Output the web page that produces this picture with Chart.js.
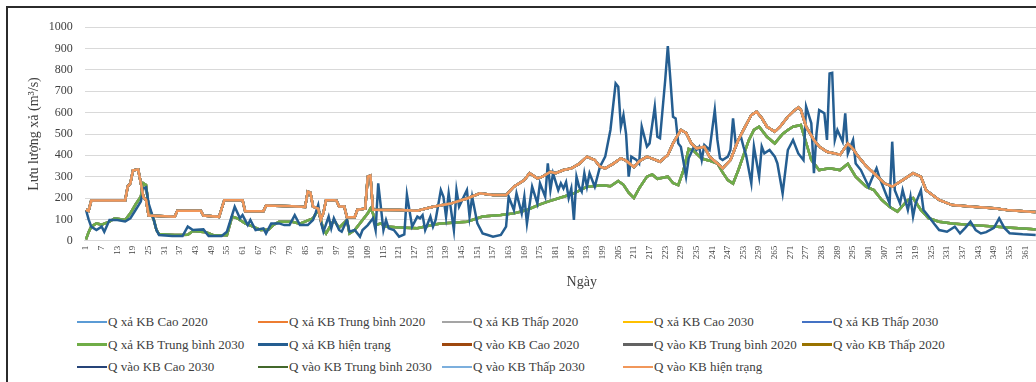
<!DOCTYPE html>
<html lang="vi">
<head>
<meta charset="utf-8">
<title>Lưu lượng xả</title>
<script src="https://cdn.jsdelivr.net/npm/chart.js@4.4.1/dist/chart.umd.min.js"></script>
<style>
  html, body { margin: 0; padding: 0; background: #fff; }
  body { width: 1036px; height: 382px; overflow: hidden; position: relative;
         font-family: "Liberation Serif", "Times New Roman", serif; color: #404040; }
  #frame { position: absolute; left: 6px; top: 6px; width: 1060px; height: 400px;
           border-left: 2px solid #2b2b2b; border-top: 2px solid #2b2b2b; }
  #plot { position: absolute; left: 0; top: 0; width: 1037px; height: 300px; }
  .lg { position: absolute; white-space: nowrap; font-size: 13px; line-height: 16px;
        display: flex; align-items: center; color: #404040; }
  .lg i { display: inline-block; width: 30px; height: 2.5px; margin-right: 1px; }
</style>
</head>
<body>
<div id="frame"></div>
<div id="plot"><canvas id="chart"></canvas></div>
<div id="legend"></div>
<script>
// Day numbers shown under the horizontal axis
const dayTicks = [1,7,13,19,25,31,37,43,49,55,61,67,73,79,85,91,97,103,109,115,121,127,133,139,
  145,151,157,163,169,175,181,187,193,199,205,211,217,223,229,235,241,247,253,259,265,271,277,
  283,289,295,301,307,313,319,325,331,337,343,349,355,361];

// Inflow to the reservoir, [day, m3/s]
const qVao = [[1,145],[2,140],[3,188],[16,188],[17,255],[18,268],[19,330],[21,334],[22,270],[23,205],
  [24,190],[25,118],[35,112],[36,140],[45,140],[46,118],[52,112],[54,190],[61,190],[62,138],[69,138],
  [70,165],[80,162],[85,158],[86,230],[87,225],[88,160],[90,150],[91,100],[92,130],[93,190],[96,190],
  [97,188],[98,160],[100,160],[101,110],[104,110],[105,145],[108,150],[109,300],[110,305],[111,145],
  [121,144],[128,140],[134,159],[141,175],[147,198],[152,222],[157,214],[162,214],[165,253],[169,284],
  [171,316],[174,292],[176,300],[179,323],[181,316],[184,331],[187,339],[190,360],[193,394],[196,378],
  [198,347],[200,339],[203,360],[206,386],[208,375],[211,345],[213,372],[216,394],[218,385],[221,370],
  [224,402],[226,456],[229,519],[231,505],[233,456],[235,433],[238,440],[240,394],[243,362],[245,339],
  [248,378],[251,472],[253,519],[256,589],[258,605],[260,575],[262,534],[265,511],[267,534],[270,581],
  [272,605],[274,625],[275,613],[277,534],[280,472],[282,441],[285,417],[288,409],[290,402],[293,456],
  [295,430],[297,394],[300,350],[303,316],[307,269],[310,253],[314,284],[318,316],[321,300],[323,237],
  [328,191],[333,167],[341,159],[349,152],[354,144],[363,136],[365,135]];

// Planned release (all scenarios), [day, m3/s]
const qXaKB = [[1,6],[2,40],[3,66],[5,81],[7,75],[10,89],[12,105],[16,97],[18,128],[20,170],[22,206],
  [23,269],[24,261],[25,159],[27,97],[28,50],[29,31],[35,27],[40,28],[42,45],[47,40],[50,25],[55,25],
  [57,113],[59,105],[62,81],[65,66],[68,50],[71,52],[73,75],[75,89],[80,89],[83,80],[88,105],[90,144],
  [92,50],[93,34],[96,97],[98,60],[101,97],[102,34],[104,50],[107,97],[109,128],[110,150],[111,128],
  [112,73],[114,81],[116,66],[121,62],[128,58],[134,75],[137,81],[147,89],[153,113],[160,120],[165,128],
  [170,144],[175,170],[178,183],[184,206],[188,222],[193,253],[199,260],[202,255],[205,280],[207,262],
  [209,225],[211,200],[213,245],[216,300],[218,310],[220,290],[222,295],[224,300],[226,270],[228,260],
  [230,330],[232,430],[234,420],[237,385],[240,375],[243,362],[245,320],[247,284],[249,268],[251,330],
  [253,400],[255,470],[257,519],[259,534],[262,487],[265,456],[268,500],[270,519],[272,534],[275,542],
  [276,500],[279,378],[282,331],[286,339],[290,331],[293,360],[296,300],[300,253],[303,237],[306,191],
  [309,159],[312,136],[316,191],[318,200],[321,144],[324,105],[328,89],[333,81],[341,73],[349,66],
  [354,62],[363,55],[365,52]];

// Current-state release, [day, m3/s]
const qXaHienTrang = [[1,144],[2,100],[3,66],[5,50],[7,66],[8,42],[10,97],[13,97],[16,90],[18,105],
  [20,144],[22,183],[23,245],[24,250],[25,175],[27,97],[28,50],[29,27],[34,22],[38,22],[40,66],[42,50],
  [46,53],[48,22],[53,22],[55,42],[58,159],[60,105],[61,120],[63,73],[64,97],[66,50],[69,58],[70,34],
  [72,81],[75,81],[77,73],[79,73],[81,120],[83,73],[86,73],[88,97],[89,130],[90,167],[91,89],[92,42],
  [94,113],[95,58],[96,105],[98,50],[99,42],[101,97],[102,42],[104,50],[106,19],[107,50],[109,73],
  [111,105],[112,50],[113,269],[115,50],[116,97],[117,58],[119,50],[121,19],[123,30],[124,215],[126,66],
  [128,113],[129,105],[130,120],[131,50],[133,113],[134,66],[135,97],[137,237],[138,206],[139,113],
  [140,222],[142,50],[143,237],[144,160],[147,237],[148,113],[149,206],[151,81],[153,34],[155,27],
  [157,19],[160,27],[162,66],[163,206],[165,144],[166,222],[168,128],[169,206],[170,81],[172,253],
  [174,175],[175,269],[177,206],[178,362],[179,237],[180,316],[182,237],[183,269],[184,245],[185,275],
  [186,200],[187,245],[188,97],[189,300],[190,253],[191,230],[192,316],[193,253],[194,316],[196,253],
  [198,347],[200,394],[202,519],[204,737],[205,722],[206,534],[207,589],[208,500],[209,300],[210,394],
  [212,378],[213,362],[214,534],[216,441],[217,456],[219,628],[220,487],[221,480],[223,753],[224,912],
  [225,753],[226,581],[227,573],[228,456],[229,440],[231,300],[232,386],[234,440],[235,425],[236,440],
  [237,378],[238,448],[240,425],[242,612],[243,472],[244,386],[245,378],[247,394],[248,425],[249,573],
  [250,456],[252,487],[253,441],[254,400],[256,269],[257,441],[259,300],[260,441],[261,409],[263,425],
  [265,394],[266,362],[268,222],[270,425],[272,472],[274,409],[276,378],[277,628],[279,550],[280,316],
  [281,503],[282,612],[284,597],[285,472],[286,784],[287,787],[288,472],[289,519],[291,464],[292,597],
  [293,409],[295,472],[296,362],[298,331],[301,253],[302,284],[304,339],[305,300],[308,206],[309,175],
  [310,464],[311,237],[313,175],[314,237],[316,144],[317,206],[318,113],[319,175],[321,237],[322,144],
  [324,113],[326,81],[328,50],[331,42],[334,66],[336,34],[338,60],[340,89],[342,50],[344,34],[346,40],
  [349,60],[351,105],[353,60],[355,35],[360,30],[365,27]];

// Series names, in legend order
const seriesNames = ['Q xả KB Cao 2020','Q xả KB Trung bình 2020','Q xả KB Thấp 2020','Q xả KB Cao 2030',
  'Q xả KB Thấp 2030','Q xả KB Trung bình 2030','Q xả KB hiện trạng','Q vào KB Cao 2020',
  'Q vào KB Trung bình 2020','Q vào KB Thấp 2020','Q vào KB Cao 2030','Q vào KB Trung bình 2030',
  'Q vào KB Thấp 2030','Q vào KB hiện trạng'];
const seriesValues = [qXaKB, qXaKB, qXaKB, qXaKB, qXaKB, qXaKB, qXaHienTrang,
  qVao, qVao, qVao, qVao, qVao, qVao, qVao];

const seriesColors = ['#5B9BD5','#ED7D31','#A5A5A5','#FFC000','#4472C4','#70AD47','#255E91',
  '#9E480E','#636363','#997300','#264478','#43682B','#7CAFDD','#F1975A'];

const yTitle = 'Lưu lượng xả (m³/s)';
const xTitle = 'Ngày';
const xTitleDay = 191;

const FONT = '"Liberation Serif", "Times New Roman", serif';
const TEXT = '#404040';

// Horizontal axis caption, placed under the matching day
const axisCaption = {
  id: 'axisCaption',
  afterDraw(chart) {
    const { ctx, scales: { x } } = chart;
    ctx.save();
    ctx.font = '14px ' + FONT;
    ctx.fillStyle = TEXT;
    ctx.textAlign = 'center';
    ctx.textBaseline = 'middle';
    ctx.fillText(xTitle, x.getPixelForValue(xTitleDay), 282);
    ctx.restore();
  }
};

const n = seriesNames.length;
const datasets = seriesNames.map((name, i) => ({
  label: name,
  data: seriesValues[i].map(([d, v]) => ({ x: d, y: v })),
  borderColor: seriesColors[i],
  backgroundColor: seriesColors[i],
  borderWidth: 2.5,
  pointRadius: 0,
  tension: 0,
  fill: false,
  order: n - i            // later series are drawn on top
}));

new Chart(document.getElementById('chart'), {
  type: 'line',
  data: { datasets },
  plugins: [axisCaption],
  options: {
    responsive: true,
    maintainAspectRatio: false,
    animation: false,
    layout: { padding: { top: 27.3, left: 0, right: 0, bottom: 0 } },
    plugins: { legend: { display: false }, tooltip: { enabled: false } },
    scales: {
      x: {
        type: 'linear',
        min: 0.5,
        max: 365.5,
        afterBuildTicks(scale) { scale.ticks = dayTicks.map(v => ({ value: v })); },
        afterFit(scale) { scale.height = 59.3; scale.paddingLeft = 0; scale.paddingRight = 0; },
        grid: { display: false, drawTicks: false },
        border: { display: true, color: '#d9d9d9', width: 1 },
        ticks: { autoSkip: false, minRotation: 90, maxRotation: 90, padding: 5,
                 callback: v => String(v),
                 color: TEXT, font: { family: FONT, size: 9 } }
      },
      y: {
        min: 0,
        max: 1000,
        afterFit(scale) { scale.width = 84.7; scale.paddingTop = 0; scale.paddingBottom = 0; },
        ticks: { stepSize: 100, padding: 12, callback: v => String(v),
                 color: TEXT, font: { family: FONT, size: 12 } },
        grid: { color: '#d9d9d9', lineWidth: 1, drawTicks: false },
        border: { display: false },
        title: { display: true, text: yTitle, color: TEXT, font: { family: FONT, size: 14 },
                 padding: { top: 26, bottom: 0 } }
      }
    }
  }
});

// Legend: five columns, three rows
const legendCols = [77, 258, 442, 623, 802];
const legendRows = [322, 344.5, 367];
const legendBox = document.getElementById('legend');
seriesNames.forEach((name, i) => {
  const item = document.createElement('div');
  item.className = 'lg';
  item.style.left = legendCols[i % 5] + 'px';
  item.style.top = (legendRows[Math.floor(i / 5)] - 8) + 'px';
  const sw = document.createElement('i');
  sw.style.background = seriesColors[i];
  item.appendChild(sw);
  item.appendChild(document.createTextNode(name));
  legendBox.appendChild(item);
});
</script>
</body>
</html>
